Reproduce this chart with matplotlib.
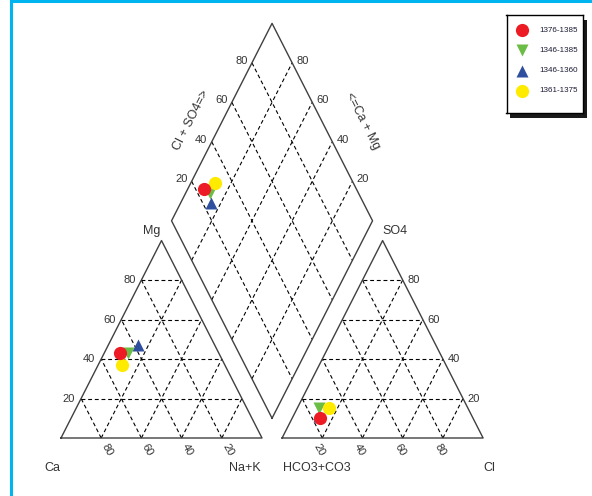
import numpy as np
import matplotlib
matplotlib.use("Agg")
import matplotlib.pyplot as plt
from matplotlib.lines import Line2D

plt.rcParams['font.family'] = ['Liberation Sans', 'DejaVu Sans']

# ---- sample groups (percent of meq) ----
periods = ['1376-1385', '1346-1385', '1346-1360', '1361-1375']
colors = ['#ED1C24', '#6CBD45', '#2E4E9E', '#FFEB00']
markers = ['o', 'v', '^', 'o']

ca = [49, 45, 38, 51]
mg = [43, 43, 47, 37]
nak = [8, 12, 15, 12]
hco3 = [76, 74, 76, 69]
cl = [14, 11, 13, 16]
so4 = [10, 15, 11, 15]

grid_vals = [20, 40, 60, 80]

# ---- geometry ----
H = np.sqrt(3) / 2
GAP = 0.1
X0_RIGHT = 1 + GAP
BOTTOM = (1 + GAP / 2, GAP * H)


def cation_xy(mg_f, na_f):
    return na_f + mg_f / 2, mg_f * H


def anion_xy(so4_f, cl_f):
    return X0_RIGHT + cl_f + so4_f / 2, so4_f * H


def diamond_xy(na_f, clso4_f):
    x = BOTTOM[0] - 0.5 * (1 - na_f) + 0.5 * clso4_f
    y = BOTTOM[1] + H * (1 - na_f) + H * clso4_f
    return x, y


fig = plt.figure(figsize=(5.92, 4.96), dpi=100)
ax = fig.add_axes([0, 0, 1, 1])
# one data unit = 201 px horizontally, 228 px vertically
ax.set_xlim(-61 / 201, (592 - 61) / 201)
ax.set_ylim((438 - 496) / 228, 438 / 228)
ax.axis('off')

OUT = dict(color='#404040', lw=1.0, zorder=2)
GRID = dict(color='black', lw=0.8, ls=(0, (3.5, 2.5)), zorder=1)

# triangle outlines
ax.plot([0, 1, 0.5, 0], [0, 0, H, 0], **OUT)
ax.plot([X0_RIGHT, X0_RIGHT + 1, X0_RIGHT + 0.5, X0_RIGHT], [0, 0, H, 0], **OUT)
dia = [diamond_xy(1, 0), diamond_xy(0, 0), diamond_xy(0, 1), diamond_xy(1, 1), diamond_xy(1, 0)]
ax.plot([p[0] for p in dia], [p[1] for p in dia], **OUT)

# triangle grids
for v in grid_vals:
    k = v / 100
    for x0 in (0, X0_RIGHT):
        ax.plot([x0 + k / 2, x0 + 1 - k / 2], [k * H, k * H], **GRID)
        ax.plot([x0 + k, x0 + k + (1 - k) / 2], [0, (1 - k) * H], **GRID)
        ax.plot([x0 + 1 - k, x0 + (1 - k) / 2], [0, (1 - k) * H], **GRID)
    # diamond grid
    a, b = diamond_xy(k, 0), diamond_xy(k, 1)
    ax.plot([a[0], b[0]], [a[1], b[1]], **GRID)
    a, b = diamond_xy(0, k), diamond_xy(1, k)
    ax.plot([a[0], b[0]], [a[1], b[1]], **GRID)

PX = 0.72  # points per pixel
TICK = dict(fontsize=8, color='#333333', ha='center', va='center',
            textcoords='offset points', zorder=3)

for v in grid_vals:
    k = v / 100
    s = str(v)
    # Mg on left edge of cation triangle
    ax.annotate(s, cation_xy(k, 0), xytext=(-12 * PX, 0), **TICK)
    # Ca along base of cation triangle
    ax.annotate(s, cation_xy(0, 1 - k), xytext=(6 * PX, -12 * PX), rotation=-60, **TICK)
    # Cl along base of anion triangle
    ax.annotate(s, anion_xy(0, k), xytext=(-3 * PX, -12 * PX), rotation=-60, **TICK)
    # SO4 on right edge of anion triangle
    ax.annotate(s, anion_xy(k, 1 - k), xytext=(11 * PX, 0), **TICK)
    # diamond: Cl + SO4 on upper-left edge
    ax.annotate(s, diamond_xy(0, k), xytext=(-10.5 * PX, 2 * PX), **TICK)
    # diamond: Ca + Mg on upper-right edge
    ax.annotate(s, diamond_xy(1 - k, 1), xytext=(10.5 * PX, 2 * PX), **TICK)

LAB = dict(fontsize=9, color='#333333', ha='center', va='center',
           textcoords='offset points', zorder=3)
ax.annotate('Mg', (0.5, H), xytext=(-10 * PX, 10 * PX), **LAB)
ax.annotate('Ca', (0, 0), xytext=(-9 * PX, -30 * PX), **LAB)
ax.annotate('Na+K', (1, 0), xytext=(-17 * PX, -30 * PX), **LAB)
ax.annotate('SO4', (X0_RIGHT + 0.5, H), xytext=(12.5 * PX, 10 * PX), **LAB)
ax.annotate('HCO3+CO3', (X0_RIGHT, 0), xytext=(34.5 * PX, -30 * PX), **LAB)
ax.annotate('Cl', (X0_RIGHT + 1, 0), xytext=(6 * PX, -30 * PX), **LAB)

ang = np.degrees(np.arctan2(H * 228, 0.5 * 201))
ax.annotate('Cl + SO4=>', diamond_xy(0, 0.5), xytext=(-31 * PX, 2 * PX),
            rotation=ang, **LAB)
ax.annotate('<=Ca + Mg', diamond_xy(0.5, 1), xytext=(40 * PX, 1 * PX),
            rotation=-ang, **LAB)

# ---- samples ----
order = [2, 1, 3, 0]
for i in order:
    ms = 9.5 if markers[i] == 'o' else 9
    pts = [cation_xy(mg[i] / 100, nak[i] / 100),
           anion_xy(so4[i] / 100, cl[i] / 100),
           diamond_xy(nak[i] / 100, (cl[i] + so4[i]) / 100)]
    ax.plot([p[0] for p in pts], [p[1] for p in pts], ls='none',
            marker=markers[i], ms=ms, color=colors[i], mec='none', zorder=5)

# ---- legend box with drop shadow ----
W, Hf = 592, 496
lx0, ly0, lx1, ly1 = 506.5, 15, 583, 113
shadow = fig.add_axes([(lx0 + 4) / W, 1 - (ly1 + 5) / Hf, (lx1 - lx0) / W, (ly1 - ly0) / Hf])
shadow.set_facecolor('#1a1a1a')
shadow.set_xticks([])
shadow.set_yticks([])
for sp in shadow.spines.values():
    sp.set_visible(False)
shadow.set_zorder(1)

lax = fig.add_axes([lx0 / W, 1 - ly1 / Hf, (lx1 - lx0) / W, (ly1 - ly0) / Hf])
lax.set_zorder(2)
lax.set_facecolor('white')
lax.set_xlim(lx0, lx1)
lax.set_ylim(ly1, ly0)
lax.set_xticks([])
lax.set_yticks([])
for sp in lax.spines.values():
    sp.set_color('black')
    sp.set_linewidth(1.0)
rows = [30, 50, 71, 91]
for i, yy in enumerate(rows):
    ms = 9.5 if markers[i] == 'o' else 9
    lax.plot([522], [yy], ls='none', marker=markers[i], ms=ms, color=colors[i], mec='none')
    lax.text(539, yy, periods[i], fontsize=5.8, color='#1a1a33', ha='left', va='center')

# ---- cyan frame ----
fig.add_artist(Line2D([10.5 / W, 10.5 / W], [0, 1], transform=fig.transFigure,
                      color='#00B4F0', lw=2.2))
fig.add_artist(Line2D([10.5 / W, 1], [1 - 0.8 / Hf, 1 - 0.8 / Hf], transform=fig.transFigure,
                      color='#00B4F0', lw=2.2))

fig.savefig('out.png', dpi=100)
